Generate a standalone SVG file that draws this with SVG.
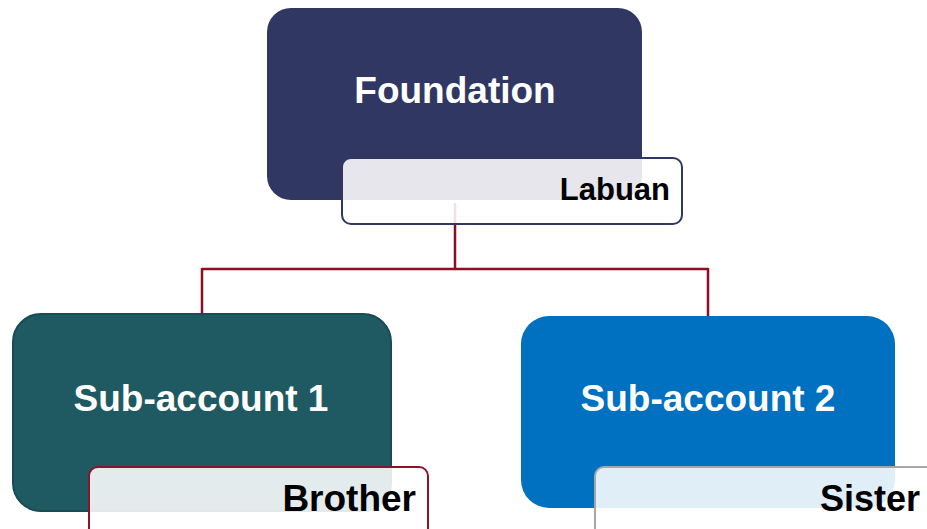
<svg xmlns="http://www.w3.org/2000/svg" width="927" height="529" viewBox="0 0 927 529">
  <style>
    .title { font-family: "Liberation Sans", Arial, sans-serif; font-weight: bold; font-size: 37px; fill: #ffffff; text-anchor: middle; }
    .tag { font-family: "Liberation Sans", Arial, sans-serif; font-weight: bold; fill: #000000; text-anchor: end; }
    .tagbox { fill: #ffffff; fill-opacity: 0.88; stroke-width: 2; }
    .link { fill: none; stroke: #8c0f24; stroke-width: 2.5; }
  </style>
  <rect width="927" height="529" fill="#ffffff"/>

  <g id="connectors">
    <path class="link" d="M455 203 V269 M202 269 H708 M202 268 V314 M708 268 V316"/>
  </g>

  <g id="foundation">
    <rect x="267" y="8" width="375" height="192" rx="24" fill="#313763"/>
    <text class="title" x="455" y="103">Foundation</text>
    <rect class="tagbox" x="342" y="158" width="340" height="66" rx="9" stroke="#313763"/>
    <text class="tag" x="670" y="200" font-size="31">Labuan</text>
  </g>

  <g id="sub-account-1">
    <rect x="13" y="314" width="378" height="197" rx="28" fill="#1f5a63" stroke="#184b53" stroke-width="2"/>
    <text class="title" x="201" y="411">Sub-account 1</text>
    <rect class="tagbox" x="89" y="467" width="339" height="80" rx="9" stroke="#8c1428"/>
    <text class="tag" x="416" y="511" font-size="37">Brother</text>
  </g>

  <g id="sub-account-2">
    <rect x="521" y="316" width="374" height="192" rx="28" fill="#0070c0"/>
    <text class="title" x="708" y="411">Sub-account 2</text>
    <rect class="tagbox" x="595" y="467" width="345" height="80" rx="9" stroke="#a6a6a6"/>
    <text class="tag" x="920" y="511" font-size="36">Sister</text>
  </g>
</svg>
